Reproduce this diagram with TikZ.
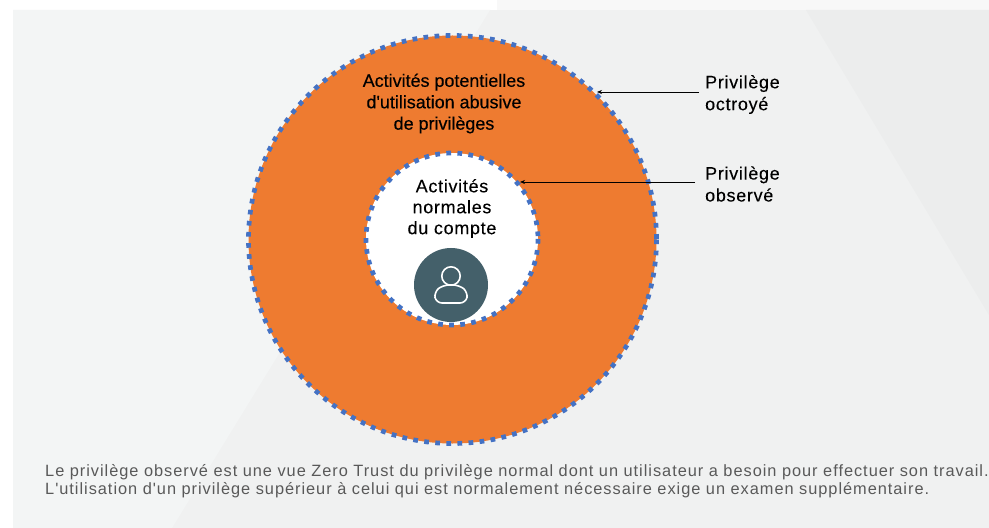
\documentclass[tikz,border=0pt]{standalone}
\usepackage{fontspec}
\setmainfont{Liberation Sans}
\newfontfamily\capfont[LetterSpace=6]{Liberation Sans}
\newfontfamily\lblfont[LetterSpace=4,FakeBold=0.15]{Liberation Sans}
\newfontfamily\potfont[FakeBold=0.3]{Liberation Sans}
\usetikzlibrary{arrows.meta}
\definecolor{pagebg}{HTML}{F0F1F1}
\definecolor{lightbg}{HTML}{F3F5F5}
\definecolor{darkbg}{HTML}{ECEDED}
\definecolor{topbg}{HTML}{F8F8F8}
\definecolor{ringorange}{HTML}{EE7B30}
\definecolor{dotblue}{HTML}{4472C4}
\definecolor{slateicon}{HTML}{44606A}
\tikzset{
  dotring/.style={draw=dotblue,line width=4.7bp,dash pattern=on 4.7bp off 6.4bp},
  lbl/.style={font=\lblfont\fontsize{18}{22}\selectfont,align=left,anchor=west,inner sep=0pt,text=black},
  ctr/.style={font=\lblfont\fontsize{18}{21}\selectfont,align=center,inner sep=0pt,text=black},
  ctrpot/.style={font=\potfont\fontsize{18}{21.5}\selectfont,align=center,inner sep=0pt,text=black},
  captext/.style={font=\capfont\fontsize{16.4}{18}\selectfont,anchor=west,inner sep=0pt,text=black!65},
  lead/.style={draw=black,line width=0.7bp,-{Stealth[length=5bp,width=4bp]}},
}
\begin{document}
\begin{tikzpicture}[x=1bp,y=-1bp]
\useasboundingbox (0,0) rectangle (989,528);
\fill[white] (0,0) rectangle (989,528);
\fill[topbg] (497,0) rectangle (989,10);
\fill[pagebg] (13,10) rectangle (989,528);
\fill[lightbg] (13,10) -- (490,10) -- (172,528) -- (13,528) -- cycle;
\fill[darkbg] (806,10) -- (989,10) -- (989,315) -- cycle;
% circles
\node[circle,minimum size=408bp,inner sep=0pt,fill=ringorange] (outer) at (452.5,239.5) {};
\draw[dotring] (452.5,239.5) circle (204);
\node[circle,minimum size=172bp,inner sep=0pt,fill=white] (inner) at (452,239) {};
\draw[dotring] (452,239) circle (86);
% icon
\node[circle,minimum size=74bp,inner sep=0pt,fill=slateicon] (icon) at (451,285) {};
\draw[white,line width=1.6bp] (451,276) circle (9.2);
\draw[white,line width=1.6bp,rounded corners=6bp] (443,285) -- (459,285) -- (468,292) -- (466,303) -- (436,303) -- (434,292) -- cycle;
% texts
\node[ctrpot] (pot) at (444,103.5) {Activités potentielles\\d'utilisation abusive\\de privilèges};
\node[ctr] (norm) at (452,208.5) {Activités\\normales\\du compte};
\node[lbl] (oct) at (705,94.5) {Privilège\\octroyé};
\node[lbl] (obs) at (705,184) {Privilège\\observé};
% leaders
\coordinate (octtip) at (597,92);
\coordinate (obstip) at (520,182);
\coordinate (octstart) at (699,92);
\coordinate (obsstart) at (695,182);
\draw[lead] (octstart) -- (octtip);
\draw[lead] (obsstart) -- (obstip);
% caption
\node[captext] (c1) at (45,472) {Le privilège observé est une vue Zero Trust du privilège normal dont un utilisateur a besoin pour effectuer son travail.};
\node[captext] (c2) at (45,490) {L'utilisation d'un privilège supérieur à celui qui est normalement nécessaire exige un examen supplémentaire.};
\end{tikzpicture}
\end{document}
